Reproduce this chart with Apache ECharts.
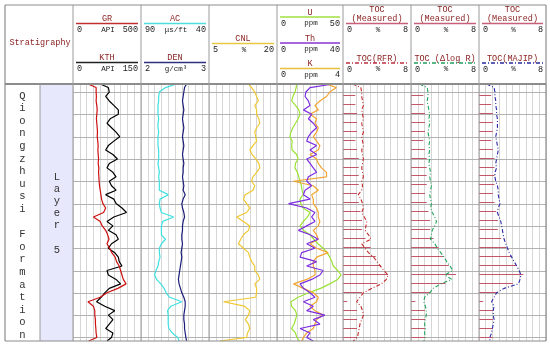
<!DOCTYPE html>
<html><head><meta charset="utf-8">
<script src="https://cdn.jsdelivr.net/npm/echarts@6/dist/echarts.min.js"></script>
<style>html,body{margin:0;padding:0;background:#fff}#c{width:550px;height:347px}</style>
</head><body><div id="c"></div>
<script>
// ---- data (depth in m, relative) ----
const depths = [3.2,4,5,6,7,8,9,10,11,12,13,14,15,16,17,18,19,20,21,22,23,24,25,26,27,28,29,30,31,32,33,34,35,36,37,38,39,40,41,42,43,44,45,46,47,48,49,50,51,52,53,54,55,56,57,58,59,60,60.8];
const depthTicks = [5,10,15,20,25,30,35,40,45,50,55,60];
const GR = [110, 170,170,172,170,175,178,175,172,175,178, 180,178,182,185,183,185,188,185,190,188, 190,192,195,200,205,210,220,240,225,150, 200,215,240,255,265,250,270,285,310,320, 340,350,360,370,390,330,250,200,110,150, 160,160,165,165,168,170,175, 115];
const KTH = [60, 78,80,72,80,90,100,100,82,75,85, 95,103,90,78,72,88,98,80,75,88, 95,80,85,95,72,90,95,108,118,90, 75,88,78,95,100,85,78,92,100,102, 108,75,78,95,105,80,70,62,52,70, 92,78,88,80,72,88,85, 75];
const AC = [64, 72,76.5,77,77,77.5,77.5,77.5,77,77.5,77.5, 77,77.5,77.5,77.5,77,77,77,77.5,77,76.5, 77,76.5,76.5,76.5,70,76,76.5,76,75,66, 74,75,75,75,72,75,76.5,76.5,76,77, 77.5,79,80,78.5,75.5,73,71.5,69,60,68, 70.5,70,70,70,69.5,67,63, 62];
const DEN = [2.67, 2.64,2.63,2.62,2.61,2.62,2.63,2.62,2.61,2.62,2.63, 2.62,2.61,2.62,2.63,2.62,2.61,2.62,2.63,2.62,2.62, 2.61,2.62,2.63,2.62,2.65,2.62,2.60,2.61,2.63,2.64, 2.62,2.61,2.61,2.60,2.60,2.61,2.60,2.59,2.60,2.59, 2.58,2.57,2.56,2.55,2.56,2.58,2.60,2.63,2.65,2.65, 2.64,2.63,2.63,2.64,2.64,2.65,2.66, 2.67];
const CNL = [13.7, 14.4,15.1,15.5,15.9,15.1,15.5,15.5,16.0,16.2,15.5, 15.1,15.3,15.5,14.7,14.0,14.5,15.3,16.0,16.2,15.5, 14.7,14.4,15.1,14.7,13.0,12.6,13.3,14.0,13.3,11.1, 12.6,14.0,13.7,12.6,12.0,11.5,12.6,13.7,14.0,14.4, 15.1,15.1,15.9,16.2,15.1,15.5,15.5,15.3,8.2,12.8, 14.0,13.7,13.0,13.7,14.0,13.5,13.3, 7.5];
const U = [14.9, 14.5,13.6,12.0,11.1,14.0,16.5,17.4,16.0,14.0,12.0, 10.5,9.8,11.5,11.1,11.5,14.9,16.0,14.0,13.6,15.5, 16.5,17.4,18.5,19.0,19.9,17.4,18.0,19.9,25,23, 20,17.5,20,25,28,31,35,38,40,41.5, 42.7,46,48.5,46,40,33,24,16,10.5,11, 14,15,14,13,11,14,15, 17];
const TH = [34, 20,17.5,17,19,20,16,21,19,22,24, 21,19,18,24,20,24,18,20,22,24, 19,18,21,17,16,20,7,18,23,21, 23,18,13,20,25,18,23,15,14,24, 18,28,26,21,14,16,20,23,16,22, 18,29,22,26,14,20,18, 22];
const K = [3.0, 3.6,3.2,3.0,2.6,2.3,2.5,2.0,2.4,2.3,2.5, 2.4,2.2,2.4,2.6,2.5,2.0,2.4,2.5,2.7,3.0, 3.0,1.0,2.2,2.5,2.1,2.2,2.2,2.4,2.5,2.5, 2.6,2.5,2.2,2.4,2.5,2.0,2.4,3.1,2.4,2.2, 2.2,2.3,2.3,1.8,1.0,1.6,2.2,2.5,2.4,2.0, 2.3,2.8,2.4,2.3,2.2,1.8,1.6, 1.5];
const TOC_RFR = [1.1, 2.1,2.2,2.2,2.3,2.4,2.2,2.3,2.4,2.2,2.3, 2.4,2.2,2.3,2.4,2.2,2.3,2.4,2.3,2.2,2.3, 2.4,2.2,2.3,2.2,1.8,2.1,2.3,2.4,2.2,2.5, 2.8,2.7,2.6,3.0,3.3,2.2,2.6,3.0,3.6,4.0, 4.4,4.8,5.3,5.1,4.5,3.4,2.4,2.0,1.6,2.1, 2.3,2.4,2.2,2.0,1.9,1.8,1.7, 1.2];
const TOC_DLR = [1.0, 1.9,2.0,2.0,1.9,2.0,2.1,2.2,2.1,2.2,2.1, 2.0,2.1,2.2,2.1,2.2,2.1,2.2,2.1,2.2,2.3, 2.2,2.3,2.4,2.3,2.2,2.3,2.4,2.3,2.5,2.8, 3.0,2.8,2.5,2.4,2.3,2.8,3.1,3.5,3.9,4.2, 4.6,4.9,4.0,4.8,3.5,2.6,2.2,1.6,1.5,1.7, 1.8,1.8,1.7,1.6,1.7,1.6,1.7, 1.5];
const TOC_MAJIP = [0.9, 1.8,1.9,1.9,2.0,2.0,2.1,2.1,2.2,2.2,2.2, 2.1,2.0,2.1,2.2,2.3,2.2,2.1,2.0,2.1,1.9, 1.9,2.0,2.2,2.3,2.3,2.4,2.5,2.3,2.2,2.4, 2.6,2.7,2.8,2.9,3.0,3.2,3.4,3.6,3.9,4.2, 4.5,4.8,5.0,4.9,4.7,3.0,2.1,1.8,1.5,1.8, 1.7,1.7,1.8,1.7,1.6,1.5,1.3, 1.3];
const tocDepths = [5.7,7.7,9.7,11.7,13.7,15.7,17.7,19.7,21.7,23.7,25.7,27.7,29.7,31.7,33.7,35.7,37.7,39.7,41.7,43.8,45.8,47.8,49.8,51.8,53.8,55.8,57.8,59.8];
const tocMeasured = [1.45,1.45,1.65,1.65,1.65,1.45,1.65,1.85,1.85,1.85,1.85,1.65,1.85,2.05,2.25,2.25,2.65,3.25,3.85,4.45,5.3,4.05,2.25,0.5,1.65,1.65,1.65,1.65];
const formationText = 'Qiongzhusi Formation';
const layerText = 'Layer 5';

// ---- layout ----
const B = [73,141,209,277,343,411,479,546];
const TOP = 84, H = 257, LEFT = 5, RIGHT = 546, BOTTOM = 341, HTOP = 5;
const FONT = '"Liberation Mono", monospace';
const LABEL = '#8b2323';

const chart = echarts.init(document.getElementById('c'), null, {renderer:'canvas'});
const grids = [], xAxes = [], yAxes = [], series = [];
for (let i = 0; i < 7; i++) {
  grids.push({left: B[i], top: TOP, width: B[i+1]-B[i], height: H, show: false});
  xAxes.push({gridIndex: i, type: 'value', min: 0, max: 10, interval: 1,
    axisLine: {show: false}, axisTick: {show: false}, axisLabel: {show: false},
    splitLine: {show: true, lineStyle: {color: '#d6d6d6', width: 1}}});
  yAxes.push({gridIndex: i, type: 'value', inverse: true, min: 3.2, max: 60.8,
    axisLine: {show: false}, axisTick: {show: false}, axisLabel: {show: false},
    splitLine: {show: false}});
  // horizontal depth grid lines
  series.push({type: 'custom', xAxisIndex: i, yAxisIndex: i, z: 1, animation: false, silent: true,
    data: depthTicks.map(d => [0, d]),
    renderItem: function (params, api) {
      const p0 = api.coord([0, api.value(1)]);
      const p1 = api.coord([10, api.value(1)]);
      return {type: 'line', shape: {x1: p0[0], y1: Math.round(p0[1]) + 0.5, x2: p1[0], y2: Math.round(p1[1]) + 0.5},
        style: {stroke: '#b2b2b2', lineWidth: 1}};
    }});
}
function addAxis(grid, min, max, inverse) {
  xAxes.push({gridIndex: grid, type: 'value', min: min, max: max, inverse: !!inverse, show: false});
  return xAxes.length - 1;
}
function curve(grid, ax, vals, color, dash, width) {
  series.push({type: 'line', xAxisIndex: ax, yAxisIndex: grid,
    data: vals.map((v, k) => [v, depths[k]]), showSymbol: false, symbol: 'none',
    lineStyle: {color: color, width: width || 1.2, type: dash || 'solid'}, z: 3, animation: false});
}
function bars(grid, ax) {
  series.push({type: 'custom', xAxisIndex: ax, yAxisIndex: grid,
    data: tocMeasured.map((v, k) => [v, tocDepths[k]]), animation: false, z: 2,
    renderItem: function (params, api) {
      const p0 = api.coord([0, api.value(1)]);
      const p1 = api.coord([api.value(0), api.value(1)]);
      return {type: 'line', shape: {x1: p0[0], y1: Math.round(p0[1]) + 0.5, x2: p1[0], y2: Math.round(p1[1]) + 0.5},
        style: {stroke: '#c4566a', lineWidth: 1}};
    }});
}
const aGR = addAxis(0, 0, 500), aKTH = addAxis(0, 0, 150);
const aAC = addAxis(1, 40, 90, true), aDEN = addAxis(1, 2, 3);
const aCNL = addAxis(2, 5, 20);
const aU = addAxis(3, 0, 50), aTh = addAxis(3, 0, 40), aK = addAxis(3, 0, 4);
const aT5 = addAxis(4, 0, 8), aT6 = addAxis(5, 0, 8), aT7 = addAxis(6, 0, 8);

curve(0, aKTH, KTH, '#000000');
curve(0, aGR, GR, '#cc1111');
curve(1, aAC, AC, '#3fe0e0');
curve(1, aDEN, DEN, '#1c1c7a');
curve(2, aCNL, CNL, '#f0c832');
curve(3, aU, U, '#9be234');
curve(3, aK, K, '#f2a630');
curve(3, aTh, TH, '#7d2ee0');
bars(4, aT5); bars(5, aT6); bars(6, aT7);
const DD = [4, 2, 1, 2];
curve(4, aT5, TOC_RFR, '#c42a2a', DD, 1.1);
curve(5, aT6, TOC_DLR, '#22a45c', DD, 1.1);
curve(6, aT7, TOC_MAJIP, '#2a2aa8', DD, 1.1);

// ---- header & frame graphics ----
const g = [];
function txt(t, x, y, o) {
  o = o || {};
  g.push({type: 'text', x: x, y: y, z: 20, silent: true,
    style: {text: t, fill: o.fill || '#222', font: (o.size || 8.5) + 'px ' + FONT,
      align: o.align || 'center', verticalAlign: 'middle', lineHeight: o.lh}});
}
function ln(x1, y1, x2, y2, color, w, dash) {
  g.push({type: 'line', z: 20, silent: true, shape: {x1: x1, y1: y1, x2: x2, y2: y2},
    style: {stroke: color, lineWidth: w || 1, lineDash: dash || null}});
}
g.push({type: 'rect', z: 0, silent: true, shape: {x: 40, y: TOP, width: B[0]-40, height: BOTTOM-TOP},
  style: {fill: '#e7e8fb'}});

function headerCurve(ti, label, yl, color, dash, lo, unit, hi, lw) {
  const x0 = B[ti], x1 = B[ti+1], cx = (x0 + x1) / 2;
  txt(label, cx, yl, {fill: LABEL});
  ln(x0 + 3, yl + 4.5, x1 - 3, yl + 4.5, color, lw || 1.5, dash);
  txt(lo, x0 + 4, yl + 11, {align: 'left', size: 8.5});
  txt(unit, cx + 1, yl + 11, {size: 7.5});
  txt(hi, x1 - 3, yl + 11, {align: 'right', size: 8.5});
}
txt('Stratigraphy', (LEFT + B[0]) / 2 + 1, 43, {fill: LABEL});
headerCurve(0, 'GR', 19, '#c03030', null, '0', 'API', '500');
headerCurve(0, 'KTH', 58, '#222222', null, '0', 'API', '150');
headerCurve(1, 'AC', 19, '#50dede', null, '90', 'μs/ft', '40');
headerCurve(1, 'DEN', 58, '#303080', null, '2', 'g/cm³', '3');
headerCurve(2, 'CNL', 39, '#e8c840', null, '5', '%', '20');
headerCurve(3, 'U', 12.5, '#a0e040', null, '0', 'ppm', '50');
headerCurve(3, 'Th', 38.5, '#8a35d0', null, '0', 'ppm', '40');
headerCurve(3, 'K', 64, '#e8c040', null, '0', 'ppm', '4');
const tocHead = [['TOC(RFR)', '#c03040'], ['TOC (Δlog R)', '#20a060'], ['TOC(MAJIP)', '#2a2aa0']];
for (let i = 0; i < 3; i++) {
  const ti = 4 + i, cx = (B[ti] + B[ti+1]) / 2;
  txt('TOC', cx, 10, {fill: LABEL});
  headerCurve(ti, '(Measured)', 19, '#c8607a', null, '0', '%', '8');
  headerCurve(ti, tocHead[i][0], 58.5, tocHead[i][1], [4, 2, 1, 2], '0', '%', '8', 1.3);
}
txt(formationText.split('').join('\n'), 22.5, 215.5, {size: 10.5, lh: 12.6, fill: '#333'});
txt(layerText.split('').join('\n'), 57, 213.5, {size: 10.5, lh: 12.2, fill: '#333'});

ln(LEFT, HTOP, RIGHT, HTOP, '#8c8c8c', 1.2);
ln(LEFT, BOTTOM, RIGHT, BOTTOM, '#8c8c8c', 1.2);
ln(LEFT, HTOP, LEFT, BOTTOM, '#8c8c8c', 1.2);
ln(RIGHT, HTOP, RIGHT, BOTTOM, '#8c8c8c', 1.2);
ln(LEFT, TOP, RIGHT, TOP, '#8c8c8c', 2);
for (let i = 0; i < 7; i++) ln(B[i], HTOP, B[i], BOTTOM, '#9a9a9a', 1);
ln(40, TOP, 40, BOTTOM, '#9a9a9a', 1);

chart.setOption({
  animation: false,
  backgroundColor: '#ffffff',
  grid: grids, xAxis: xAxes, yAxis: yAxes, series: series, graphic: g
});
</script></body></html>
